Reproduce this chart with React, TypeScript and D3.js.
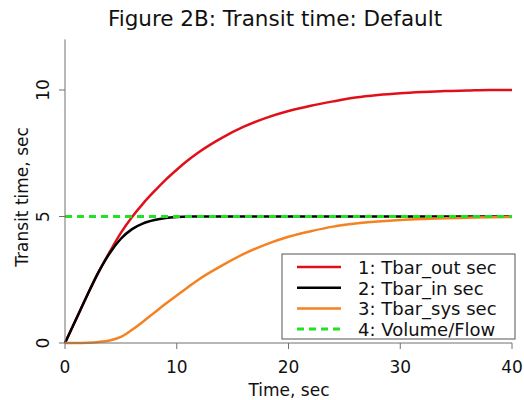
import React from 'react'
import * as d3 from 'd3'

// time grid (sec)
const times = [0, 1, 2, 3, 4, 5, 6, 7, 8, 9, 10, 11, 12, 14, 16, 18, 20, 22, 24, 26, 28, 30, 32, 34, 36, 38, 40]

const tbarOut = [0, 0.95, 1.9, 2.8, 3.6, 4.35, 4.98, 5.52, 6.0, 6.45, 6.85, 7.22, 7.55, 8.1, 8.55, 8.9, 9.17, 9.38, 9.55, 9.7, 9.8, 9.87, 9.92, 9.96, 9.98, 10.0, 10.0]
const tbarIn = [0, 0.95, 1.9, 2.8, 3.55, 4.12, 4.5, 4.73, 4.86, 4.94, 4.98, 5.0, 5.0, 5.0, 5.0, 5.0, 5.0, 5.0, 5.0, 5.0, 5.0, 5.0, 5.0, 5.0, 5.0, 5.0, 5.0]
const tbarSys = [0, 0, 0.01, 0.04, 0.1, 0.24, 0.52, 0.85, 1.2, 1.55, 1.88, 2.2, 2.52, 3.05, 3.52, 3.9, 4.2, 4.42, 4.6, 4.72, 4.8, 4.86, 4.9, 4.93, 4.95, 4.97, 4.98]
const volumeFlow = times.map(() => 5)

const seriesNames = ['1: Tbar_out sec', '2: Tbar_in sec', '3: Tbar_sys sec', '4: Volume/Flow']
const seriesColors = ['#e0101a', '#000000', '#f58220', '#22e022']

const xTicks = [0, 10, 20, 30, 40]
const yTicks = [0, 5, 10]

const font = '"DejaVu Sans", Verdana, sans-serif'

export default function App() {
  const width = 524
  const height = 400
  const x = d3.scaleLinear().domain([0, 40]).range([65, 512])
  const y = d3.scaleLinear().domain([0, 12]).range([343, 39.4])

  const allSeries = [tbarOut, tbarIn, tbarSys, volumeFlow]
  const line = d3
    .line<number>()
    .x((_, i) => x(times[i]))
    .y(d => y(d))
    .curve(d3.curveMonotoneX)

  const axisColor = '#707070'
  const textColor = '#111'

  return (
    <svg width={width} height={height} style={{ position: 'absolute', left: 0, top: 0, background: '#fff' }} fontFamily={font}>
      <text x={275} y={26} textAnchor="middle" fontSize={21.5} fill={textColor}>
        Figure 2B: Transit time: Default
      </text>

      {/* series */}
      {allSeries.map((s, i) => (
        <path
          key={i}
          d={line(s) || ''}
          fill="none"
          stroke={seriesColors[i]}
          strokeWidth={i === 3 ? 3 : 2.5}
          strokeDasharray={i === 3 ? '7,5' : undefined}
        />
      ))}

      {/* axes */}
      <line x1={x(0)} x2={x(0)} y1={y(12)} y2={y(0)} stroke={axisColor} strokeWidth={1} />
      <line x1={x(0)} x2={x(40)} y1={y(0)} y2={y(0)} stroke={axisColor} strokeWidth={1} />
      {xTicks.map(t => (
        <g key={'x' + t}>
          <line x1={x(t)} x2={x(t)} y1={y(0)} y2={y(0) + 6} stroke={axisColor} />
          <text x={x(t)} y={373} textAnchor="middle" fontSize={17} fill={textColor}>
            {t}
          </text>
        </g>
      ))}
      {yTicks.map(t => (
        <g key={'y' + t}>
          <line x1={x(0) - 6} x2={x(0)} y1={y(t)} y2={y(t)} stroke={axisColor} />
          <text
            transform={`translate(49,${y(t)}) rotate(-90)`}
            textAnchor="middle"
            fontSize={17}
            fill={textColor}
          >
            {t}
          </text>
        </g>
      ))}
      <text x={289} y={396} textAnchor="middle" fontSize={17} fill={textColor}>
        Time, sec
      </text>
      <text transform="translate(28,197) rotate(-90)" textAnchor="middle" fontSize={17} fill={textColor}>
        Transit time, sec
      </text>

      {/* legend */}
      <rect x={282} y={254} width={233} height={85} fill="#fff" stroke="#555" strokeWidth={1} />
      {seriesNames.map((name, i) => {
        const ly = 267 + i * 20.7
        return (
          <g key={name}>
            <line
              x1={297}
              x2={341}
              y1={ly}
              y2={ly}
              stroke={seriesColors[i]}
              strokeWidth={i === 3 ? 3 : 2.5}
              strokeDasharray={i === 3 ? '7,5' : undefined}
            />
            <text x={358} y={ly + 7} fontSize={18} fill={textColor}>
              {name}
            </text>
          </g>
        )
      })}
    </svg>
  )
}
